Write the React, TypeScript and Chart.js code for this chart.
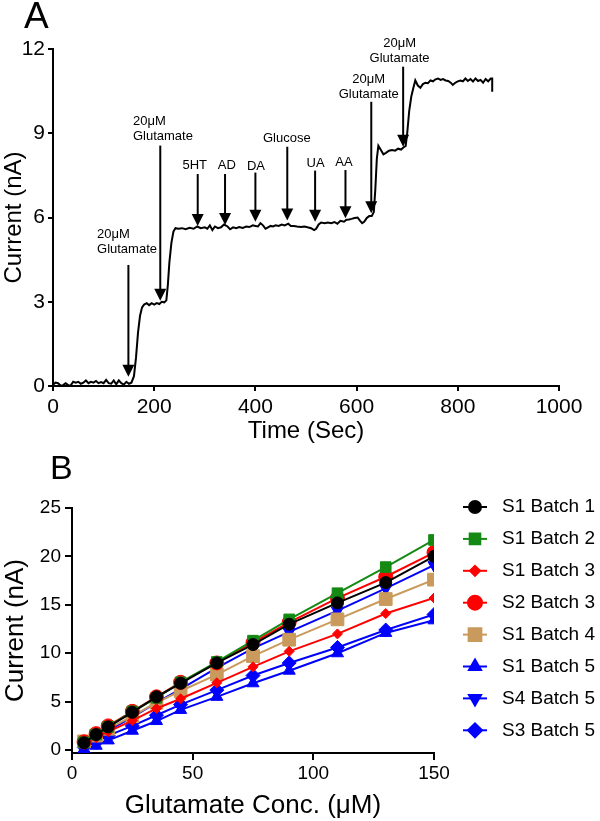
import React, { useEffect, useRef } from "react";
import { Chart, registerables } from "chart.js";
import { drawPoint } from "chart.js/helpers";

Chart.register(...registerables);

const FONT = "'Liberation Sans', Arial, Helvetica, sans-serif";

// ---------- Panel A data ----------
const traceTime = [
  0, 5, 10, 15, 20, 25, 30, 35, 40, 45, 50, 55, 60, 65, 70, 75, 80, 85, 90, 95,
  100, 105, 110, 115, 120, 125, 130, 135, 140, 145, 150, 155, 160, 164, 168, 172, 176, 180, 185, 190,
  195, 200, 205, 210, 215, 220, 224, 227, 230, 234, 238, 242, 248, 255, 262, 270, 278, 285, 292, 300,
  305, 310, 315, 320, 326, 332, 338, 345, 350, 356, 362, 368, 375, 382, 388, 395, 400, 405, 410, 415,
  420, 425, 430, 435, 440, 446, 452, 458, 465, 470, 476, 482, 490, 497, 503, 510, 516, 520, 525, 530,
  537, 543, 550, 556, 562, 568, 575, 580, 585, 590, 596, 602, 607, 611, 615, 620, 625, 630, 634, 637,
  640, 643, 648, 653, 658, 664, 670, 676, 682, 688, 693, 697, 700, 704, 708, 712, 716, 721, 726, 731,
  736, 741, 746, 751, 756, 761, 766, 771, 776, 781, 786, 790, 795, 800, 805, 810, 815, 820, 825, 830,
  835, 840, 845, 850, 855, 860, 865, 868, 868,
];
const traceCurrent = [
  0.05, 0.12, 0.1, 0.02, 0.03, 0.1, 0.03, 0.02, 0.15, 0.12, 0.15, 0.08, 0.12, 0.2, 0.1, 0.15, 0.12, 0.18, 0.1, 0.14,
  0.1, 0.22, 0.1, 0.08, 0.2, 0.06, 0.2, 0.1, 0.05, 0.15, 0.08, 0.12, 0.35, 1.0, 1.9, 2.5, 2.8, 2.9, 2.95, 2.88,
  2.95, 2.9, 2.95, 2.92, 3.0, 2.98, 3.05, 3.6, 4.4, 5.1, 5.5, 5.62, 5.6, 5.62, 5.58, 5.63, 5.6, 5.68, 5.62, 5.65,
  5.6, 5.72, 5.55, 5.68, 5.62, 5.65, 5.75, 5.68, 5.58, 5.65, 5.62, 5.66, 5.63, 5.68, 5.66, 5.72, 5.7, 5.68, 5.8, 5.72,
  5.6, 5.65, 5.7, 5.68, 5.72, 5.7, 5.75, 5.72, 5.78, 5.7, 5.7, 5.68, 5.66, 5.68, 5.65, 5.62, 5.55, 5.6, 5.75, 5.82,
  5.8, 5.82, 5.8, 5.84, 5.78, 5.88, 5.85, 5.92, 5.93, 5.95, 5.98, 6.0, 5.88, 5.8, 5.85, 5.98, 6.05, 6.05, 6.2, 7.0,
  8.1, 8.55, 8.4, 8.25, 8.3, 8.38, 8.4, 8.38, 8.45, 8.42, 8.5, 8.55, 9.0, 9.8, 10.3, 10.6, 10.88, 10.7, 10.62, 10.75,
  10.8, 10.78, 10.88, 10.85, 10.92, 10.95, 10.9, 10.93, 10.88, 10.86, 10.8, 10.72, 10.8, 10.85, 10.88, 10.85, 10.95, 10.86, 10.93, 10.84,
  10.95, 10.86, 10.9, 10.8, 10.93, 10.85, 10.95, 10.95, 10.48,
];

const timeTicks = [0, 200, 400, 600, 800, 1000];
const currentTicksA = [0, 3, 6, 9, 12];

const injectionTimes = [149, 212, 286, 340, 400, 463, 518, 578, 629, 692];
const arrowTops = [4.31, 8.56, 7.55, 7.55, 7.6, 8.52, 7.67, 7.69, 10.12, 11.37];
const arrowTips = [0.33, 3.04, 5.7, 5.73, 5.85, 5.89, 5.85, 5.97, 6.15, 8.52];
const injectionLabels = [
  ["20μM", "Glutamate"],
  ["20μM", "Glutamate"],
  ["5HT"],
  ["AD"],
  ["DA"],
  ["Glucose"],
  ["UA"],
  ["AA"],
  ["20μM", "Glutamate"],
  ["20μM", "Glutamate"],
];
const labelTimes = [87, 158, 280, 343.5, 401, 462, 519, 575, 624, 685];
const labelValues = [5.38, 9.41, 7.87, 7.87, 7.83, 8.82, 7.93, 7.95, 10.93, 12.2];
const labelAlign = ["left", "left", "center", "center", "center", "center", "center", "center", "center", "center"];

// ---------- Panel B data ----------
const glutamateConc = [5, 10, 15, 25, 35, 45, 60, 75, 90, 110, 130, 150];
const s1Batch1 = [0.75, 1.6, 2.4, 3.9, 5.5, 6.9, 9.0, 10.9, 13.0, 15.2, 17.3, 20.0];
const s1Batch2 = [0.8, 1.6, 2.4, 4.0, 5.4, 7.0, 9.1, 11.3, 13.5, 16.2, 18.9, 21.7];
const s1Batch3 = [0.6, 1.3, 1.9, 3.05, 4.3, 5.3, 6.95, 8.6, 10.2, 12.0, 14.1, 15.7];
const s2Batch3 = [0.85, 1.7, 2.5, 4.0, 5.5, 7.0, 9.0, 11.1, 13.2, 15.7, 17.9, 20.4];
const s1Batch4 = [0.9, 1.5, 2.2, 3.5, 4.9, 6.1, 7.8, 9.7, 11.4, 13.5, 15.6, 17.6];
const s1Batch5 = [0.1, 0.45, 1.0, 2.0, 3.0, 4.15, 5.5, 6.9, 8.2, 10.0, 12.1, 13.4];
const s4Batch5 = [0.5, 1.2, 2.0, 3.4, 4.9, 6.3, 8.5, 10.5, 12.2, 14.4, 16.7, 19.1];
const s3Batch5 = [0.3, 0.8, 1.5, 2.5, 3.6, 4.7, 6.2, 7.7, 9.0, 10.6, 12.4, 14.0];

const seriesNames = ["S1 Batch 1", "S1 Batch 2", "S1 Batch 3", "S2 Batch 3", "S1 Batch 4", "S1 Batch 5", "S4 Batch 5", "S3 Batch 5"];
const seriesValues = [s1Batch1, s1Batch2, s1Batch3, s2Batch3, s1Batch4, s1Batch5, s4Batch5, s3Batch5];
const concTicks = [0, 50, 100, 150];
const currentTicksB = [0, 5, 10, 15, 20, 25];

// styles (kept separate from data)
const seriesColors = ["#000000", "#148a14", "#ff0000", "#ff0000", "#c99a5b", "#0000ff", "#0000ff", "#0000ff"];
const seriesPointStyles = ["circle", "rect", "rectRot", "circle", "rect", "triangle", "triangle", "rectRot"];
const seriesRotation = [0, 0, 0, 0, 0, 0, 180, 0];
const seriesRadius = [6, 7.5, 5, 7, 9, 7, 7, 7];

const annotA = {
  id: "annotA",
  afterDatasetsDraw(chart: any) {
    const { ctx, scales } = chart;
    const x = scales.x;
    const y = scales.y;
    ctx.save();
    ctx.strokeStyle = "#000";
    ctx.fillStyle = "#000";
    ctx.lineWidth = 2;
    injectionTimes.forEach((t, i) => {
      const px = x.getPixelForValue(t);
      const top = y.getPixelForValue(arrowTops[i]);
      const tip = y.getPixelForValue(arrowTips[i]);
      ctx.beginPath();
      ctx.moveTo(px, top);
      ctx.lineTo(px, tip - 10);
      ctx.stroke();
      ctx.beginPath();
      ctx.moveTo(px - 6, tip - 12);
      ctx.lineTo(px + 6, tip - 12);
      ctx.lineTo(px, tip);
      ctx.closePath();
      ctx.fill();
    });
    ctx.font = `13px ${FONT}`;
    ctx.textBaseline = "middle";
    injectionLabels.forEach((lines, i) => {
      const px = x.getPixelForValue(labelTimes[i]);
      const py = y.getPixelForValue(labelValues[i]);
      ctx.textAlign = labelAlign[i] as CanvasTextAlign;
      lines.forEach((ln, j) => ctx.fillText(ln, px, py + j * 15));
    });
    ctx.font = `37px ${FONT}`;
    ctx.textAlign = "left";
    ctx.textBaseline = "alphabetic";
    ctx.fillText("A", 24, 28);
    ctx.restore();
  },
};

const legendB = {
  id: "legendB",
  afterDraw(chart: any) {
    const { ctx, chartArea } = chart;
    ctx.save();
    const x0 = chartArea.right;
    seriesNames.forEach((name, i) => {
      const yy = 61 + i * 31.9;
      ctx.strokeStyle = seriesColors[i];
      ctx.lineWidth = 2;
      ctx.beginPath();
      ctx.moveTo(x0 + 29, yy);
      ctx.lineTo(x0 + 53, yy);
      ctx.stroke();
      ctx.fillStyle = seriesColors[i];
      drawPoint(
        ctx,
        { pointStyle: seriesPointStyles[i] as any, rotation: seriesRotation[i], radius: seriesRadius[i], borderWidth: 1 },
        x0 + 41,
        yy
      );
      ctx.fillStyle = "#000";
      ctx.font = `19px ${FONT}`;
      ctx.textAlign = "left";
      ctx.textBaseline = "middle";
      ctx.fillText(name, x0 + 68, yy);
    });
    ctx.font = `34px ${FONT}`;
    ctx.fillStyle = "#000";
    ctx.textAlign = "left";
    ctx.textBaseline = "alphabetic";
    ctx.fillText("B", 50, 33);
    ctx.restore();
  },
};

function axisCommon(tickSize: number, pad: number, tickLen: number, titleText: string, titleSize: number) {
  return {
    ticks: {
      color: "#000",
      font: { family: FONT, size: tickSize },
      padding: pad,
      maxRotation: 0,
      autoSkip: false,
      callback: (v: any) => String(v),
    },
    grid: { drawOnChartArea: false, drawTicks: true, tickLength: tickLen, color: "#000", lineWidth: 2 },
    border: { display: true, color: "#000", width: 2 },
    title: { display: true, text: titleText, color: "#000", font: { family: FONT, size: titleSize }, padding: { top: 0, bottom: 0 } },
  };
}

export default function App() {
  const refA = useRef<HTMLCanvasElement>(null);
  const refB = useRef<HTMLCanvasElement>(null);

  useEffect(() => {
    const chartA = new Chart(refA.current as HTMLCanvasElement, {
      type: "line",
      data: {
        datasets: [
          {
            data: traceTime.map((t, i) => ({ x: t, y: traceCurrent[i] })),
            borderColor: "#000",
            borderWidth: 2,
            pointRadius: 0,
            tension: 0,
            fill: false,
          },
        ],
      },
      options: {
        responsive: false,
        animation: false,
        events: [],
        layout: { padding: { top: 49, right: 41, left: 0, bottom: 0 } },
        plugins: { legend: { display: false }, tooltip: { enabled: false } },
        scales: {
          x: {
            type: "linear",
            min: 0,
            max: 1000,
            afterBuildTicks: (s: any) => {
              s.ticks = timeTicks.map((v) => ({ value: v }));
            },
            afterFit: (s: any) => {
              s.height = 60;
            },
            ...axisCommon(21, 4, 5, "Time (Sec)", 24),
          },
          y: {
            type: "linear",
            min: 0,
            max: 12,
            afterBuildTicks: (s: any) => {
              s.ticks = currentTicksA.map((v) => ({ value: v }));
            },
            afterFit: (s: any) => {
              s.width = 53;
            },
            ...axisCommon(21, 3, 5, "Current (nA)", 24),
          },
        },
      } as any,
      plugins: [annotA],
    });

    const chartB = new Chart(refB.current as HTMLCanvasElement, {
      type: "line",
      data: {
        datasets: seriesNames.map((name, i) => ({
          label: name,
          data: glutamateConc.map((c, j) => ({ x: c, y: seriesValues[i][j] })),
          borderColor: seriesColors[i],
          backgroundColor: seriesColors[i],
          borderWidth: 2,
          pointStyle: seriesPointStyles[i],
          rotation: seriesRotation[i],
          pointRadius: seriesRadius[i],
          pointBorderWidth: 1,
          pointBorderColor: seriesColors[i],
          pointBackgroundColor: seriesColors[i],
          tension: 0,
          fill: false,
        })),
      },
      options: {
        responsive: false,
        animation: false,
        events: [],
        layout: { padding: { top: 62, right: 166, left: 0, bottom: 0 } },
        plugins: { legend: { display: false }, tooltip: { enabled: false } },
        scales: {
          x: {
            type: "linear",
            min: 0,
            max: 150,
            afterBuildTicks: (s: any) => {
              s.ticks = concTicks.map((v) => ({ value: v }));
            },
            afterFit: (s: any) => {
              s.height = 68;
            },
            ...axisCommon(19, 2, 7, "Glutamate Conc. (μM)", 26),
          },
          y: {
            type: "linear",
            min: -0.3,
            max: 25,
            afterBuildTicks: (s: any) => {
              s.ticks = currentTicksB.map((v) => ({ value: v }));
            },
            afterFit: (s: any) => {
              s.width = 72;
            },
            ...axisCommon(19, 4, 7, "Current (nA)", 26),
          },
        },
      } as any,
      plugins: [legendB],
    });

    return () => {
      chartA.destroy();
      chartB.destroy();
    };
  }, []);

  return (
    <div style={{ position: "absolute", left: 0, top: 0, width: 600, height: 821, background: "#fff" }}>
      <canvas ref={refA} width={600} height={446} style={{ position: "absolute", left: 0, top: 0, display: "block" }} />
      <canvas ref={refB} width={600} height={375} style={{ position: "absolute", left: 0, top: 446, display: "block" }} />
    </div>
  );
}
